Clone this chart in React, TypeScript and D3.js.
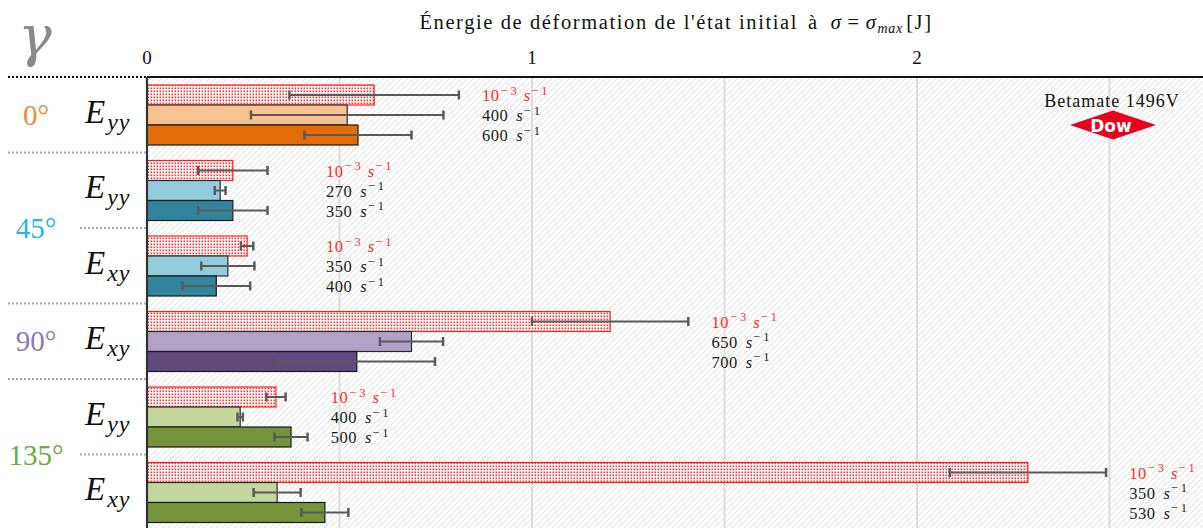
import React from "react";
import * as d3 from "d3";

const groupIds = ["g0", "g45yy", "g45xy", "g90", "g135yy", "g135xy"];
const angleNames = ["0°", "45°", "90°", "135°"];
const angleOfGroup = [0, 1, 1, 2, 3, 3];
const componentOfGroup = ["yy", "yy", "xy", "xy", "yy", "xy"];

const quasiStaticValues = [0.59, 0.223, 0.26, 1.203, 0.335, 2.288];
const quasiStaticErr = [0.22, 0.09, 0.016, 0.203, 0.025, 0.203];
const rateAValues = [0.52, 0.19, 0.21, 0.687, 0.242, 0.338];
const rateAErr = [0.25, 0.014, 0.069, 0.082, 0.007, 0.061];
const rateBValues = [0.548, 0.223, 0.18, 0.545, 0.374, 0.462];
const rateBErr = [0.139, 0.09, 0.088, 0.203, 0.043, 0.061];
const rateALabels = ["400", "270", "350", "650", "400", "350"];
const rateBLabels = ["600", "350", "400", "700", "500", "530"];

const xTicks = [0, 1, 2];
const xGrid = [0.5, 1, 1.5, 2, 2.5];

const angleColors = ["#f0883a", "#29b3e6", "#8e79ad", "#6aaa4a"];
const lightColors = ["#f7c191", "#93cddd", "#b2a2c7", "#c3d69b"];
const darkColors = ["#e36c09", "#31849b", "#604a7b", "#77933c"];

const W = 1203;
const H = 528;
const FONT = "'Liberation Serif', 'DejaVu Serif', serif";

export default function App() {
  const plotLeft = 147;
  const plotTop = 77;
  const x = d3.scaleLinear().domain([0, 1]).range([plotLeft, plotLeft + 385]);
  const y = d3.scaleBand<string>().domain(groupIds).range([plotTop, plotTop + 453]).padding(0);
  const sub = d3.scaleBand<number>().domain([0, 1, 2]).range([8, 68]).padding(0);
  const bw = sub.bandwidth();

  const angleCenters = angleNames.map((_, a) => {
    const idx = groupIds.filter((_, i) => angleOfGroup[i] === a);
    const top = y(idx[0])!;
    const bot = y(idx[idx.length - 1])! + y.bandwidth();
    return (top + bot) / 2;
  });

  const errBar = (v: number, e: number, cy: number, key: string) => (
    <g key={key} stroke="#5a5a5a" strokeWidth={2}>
      <line x1={x(v - e)} x2={x(v + e)} y1={cy} y2={cy} />
      <line x1={x(v - e)} x2={x(v - e)} y1={cy - 4.5} y2={cy + 4.5} strokeWidth={2.5} />
      <line x1={x(v + e)} x2={x(v + e)} y1={cy - 4.5} y2={cy + 4.5} strokeWidth={2.5} />
    </g>
  );

  const rateLabel = (num: string | null, lx: number, ly: number, color: string, key: string) => (
    <text key={key} x={lx} y={ly} fill={color} fontSize={16.5} fontFamily={FONT}>
      {num === null ? (
        <>
          <tspan letterSpacing={0.5}>10</tspan>
          <tspan dy={-6.5} dx={1} fontSize={12.5} letterSpacing={3}>−3</tspan>
          <tspan dy={6.5} dx={4} fontStyle="italic">s</tspan>
          <tspan dy={-6.5} dx={1} fontSize={12.5} letterSpacing={3}>−1</tspan>
        </>
      ) : (
        <>
          <tspan letterSpacing={0.5}>{num}</tspan>
          <tspan dx={8} fontStyle="italic">s</tspan>
          <tspan dy={-6.5} dx={1} fontSize={12.5} letterSpacing={3}>−1</tspan>
        </>
      )}
    </text>
  );

  return (
    <svg
      width={W}
      height={H}
      style={{ position: "absolute", left: 0, top: 0, background: "#fff" }}
      fontFamily={FONT}
    >
      <defs>
        <pattern id="hatch" patternUnits="userSpaceOnUse" width={6} height={6}>
          <path d="M-1,1 l2,-2 M0,6 l6,-6 M5,7 l2,-2" stroke="#d9d9d9" strokeWidth={0.8} />
        </pattern>
        <pattern id="dots" patternUnits="userSpaceOnUse" width={3} height={3}>
          <rect width={3} height={3} fill="#fff" />
          <rect x={0.5} y={0.5} width={1.6} height={1.6} fill="#ff3030" />
        </pattern>
        <clipPath id="plotClip">
          <rect x={plotLeft} y={plotTop} width={W - plotLeft} height={H - plotTop} />
        </clipPath>
      </defs>

      {/* title */}
      <text x={676} y={29} textAnchor="middle" fontSize={20.5} fill="#111" letterSpacing={1.6}>
        <tspan>Énergie de déformation de l'état initial</tspan>
        <tspan dx={10}>à</tspan>
        <tspan dx={12} fontStyle="italic">σ</tspan>
        <tspan dx={5}>=</tspan>
        <tspan dx={5} fontStyle="italic">σ</tspan>
        <tspan dy={4} fontSize={14} fontStyle="italic" letterSpacing={0.8}>max</tspan>
        <tspan dy={-4} dx={3}>[J]</tspan>
      </text>

      {/* gamma */}
      <text x={35} y={55} textAnchor="middle" fontSize={56} fontStyle="italic" fill="#8a8a8a"
        fontFamily="'DejaVu Serif', serif">γ</text>

      {/* x tick labels */}
      {xTicks.map((t) => (
        <text key={t} x={x(t)} y={64} textAnchor="middle" fontSize={19} fill="#111">{t}</text>
      ))}

      {/* plot background */}
      <g clipPath="url(#plotClip)">
        <rect x={plotLeft} y={plotTop} width={W - plotLeft} height={H - plotTop} fill="#fff" />
        <rect x={plotLeft} y={plotTop} width={W - plotLeft} height={H - plotTop} fill="url(#hatch)" />
        {xGrid.map((g) => (
          <line key={g} x1={x(g)} x2={x(g)} y1={plotTop} y2={H} stroke="#dcdcdc" strokeWidth={2} />
        ))}

        {groupIds.map((gid, i) => {
          const g0 = y(gid)!;
          const a = angleOfGroup[i];
          const vals = [quasiStaticValues[i], rateAValues[i], rateBValues[i]];
          const errs = [quasiStaticErr[i], rateAErr[i], rateBErr[i]];
          const fills = ["url(#dots)", lightColors[a], darkColors[a]];
          const strokes = ["#ff2020", "#2a2a2a", "#1a1a1a"];
          const maxEnd = d3.max(vals.map((v, k) => v + errs[k]))!;
          const lx = x(Math.max(0.465, maxEnd + 0.06));
          const labels: (string | null)[] = [null, rateALabels[i], rateBLabels[i]];
          const labelColors = ["#ff2a2a", "#1a1a1a", "#1a1a1a"];
          return (
            <g key={gid}>
              {vals.map((v, k) => (
                <rect
                  key={k}
                  x={x(0)}
                  y={g0 + sub(k)!}
                  width={x(v) - x(0)}
                  height={bw}
                  fill={fills[k]}
                  stroke={strokes[k]}
                  strokeWidth={1.2}
                />
              ))}
              {vals.map((v, k) => errBar(v, errs[k], g0 + sub(k)! + bw / 2, "e" + k))}
              {labels.map((lab, k) =>
                rateLabel(lab, lx, g0 + sub(k)! + bw / 2 + 6, labelColors[k], "l" + k)
              )}
            </g>
          );
        })}

        {/* brand */}
        <text x={1112} y={107} textAnchor="middle" fontSize={18} fill="#111" letterSpacing={1}>Betamate 1496V</text>
        <polygon points="1070,125 1113,110.5 1156,125 1113,139.5" fill="#e8001c" />
        <text x={1111} y={131.5} textAnchor="middle" fontSize={17} fontWeight="bold" fill="#fff"
          fontFamily="'DejaVu Sans', sans-serif">Dow</text>
        <text x={1134} y={137} fontSize={6} fill="#ffd0d0" fontFamily="'DejaVu Sans', sans-serif">®</text>
      </g>

      {/* axes lines */}
      <line x1={plotLeft} x2={W} y1={plotTop} y2={plotTop} stroke="#111" strokeWidth={2.2} />
      <line x1={plotLeft} x2={plotLeft} y1={plotTop} y2={H} stroke="#333" strokeWidth={2.2} />

      {/* left separators */}
      <line x1={8} x2={plotLeft} y1={plotTop} y2={plotTop} stroke="#111" strokeWidth={2} strokeDasharray="2,2" />
      {groupIds.slice(1).map((gid, j) => {
        const i = j + 1;
        const sameAngle = angleOfGroup[i] === angleOfGroup[i - 1];
        return (
          <line
            key={gid}
            x1={sameAngle ? 80 : 8}
            x2={plotLeft}
            y1={y(gid)!}
            y2={y(gid)!}
            stroke="#a8a8a8"
            strokeWidth={2}
            strokeDasharray="2,2"
          />
        );
      })}

      {/* angle labels */}
      {angleNames.map((name, a) => (
        <text key={name} x={36} y={angleCenters[a] + 10} textAnchor="middle" fontSize={29} fill={angleColors[a]}>
          {name}
        </text>
      ))}

      {/* component labels */}
      {groupIds.map((gid, i) => (
        <text key={gid} x={85} y={y(gid)! + y.bandwidth() / 2 + 8} fontSize={33} fontStyle="italic" fill="#111">
          <tspan>E</tspan>
          <tspan dy={7} dx={2} fontSize={24} letterSpacing={1}>{componentOfGroup[i]}</tspan>
        </text>
      ))}
    </svg>
  );
}
